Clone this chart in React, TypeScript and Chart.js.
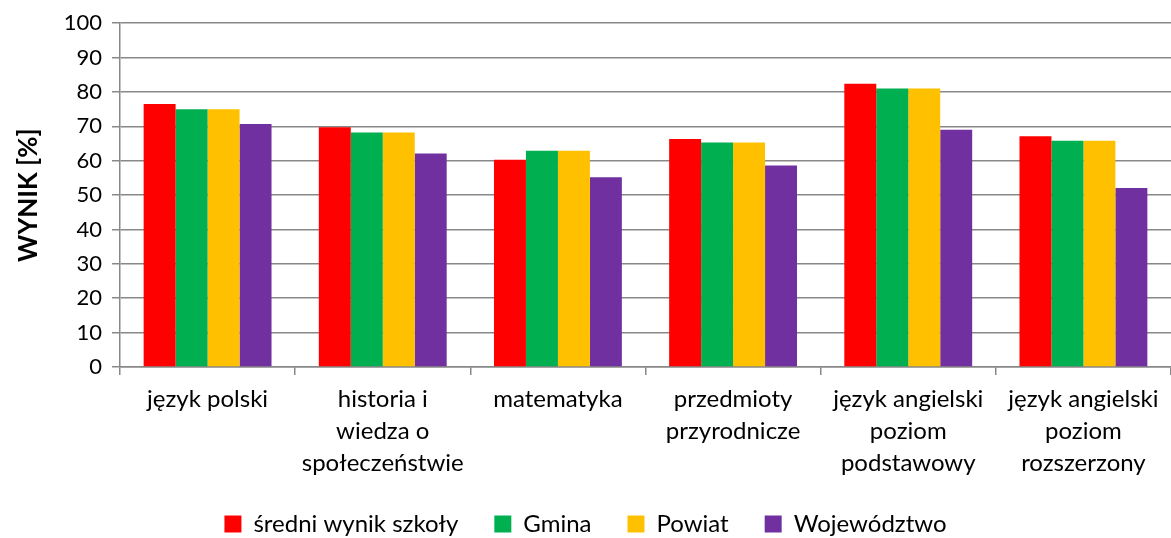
import React, { useEffect, useRef } from "react";
import { Chart, registerables } from "chart.js";

Chart.register(...registerables);

const categories: string[][] = [
  ["język polski"],
  ["historia i", "wiedza o", "społeczeństwie"],
  ["matematyka"],
  ["przedmioty", "przyrodnicze"],
  ["język angielski", "poziom", "podstawowy"],
  ["język angielski", "poziom", "rozszerzony"],
];

const seriesNames = ["średni wynik szkoły", "Gmina", "Powiat", "Województwo"];
const szkola = [76.5, 69.7, 60.3, 66.3, 82.4, 67.1];
const gmina = [75.0, 68.2, 62.9, 65.3, 81.0, 65.8];
const powiat = [75.0, 68.2, 62.9, 65.3, 81.0, 65.8];
const wojewodztwo = [70.7, 62.1, 55.2, 58.6, 69.0, 52.1];
const colors = ["#FF0000", "#00B050", "#FFC000", "#7030A0"];
const yTicks = [0, 10, 20, 30, 40, 50, 60, 70, 80, 90, 100];
const yTitle = "WYNIK [%]";

const FONT = "Lato, 'Open Sans', sans-serif";

const yTitlePlugin = {
  id: "yTitlePlugin",
  afterDraw(chart: any) {
    const { ctx, chartArea } = chart;
    ctx.save();
    ctx.translate(29, (chartArea.top + chartArea.bottom) / 2);
    ctx.rotate(-Math.PI / 2);
    ctx.font = `bold 26px ${FONT}`;
    ctx.fillStyle = "#000";
    ctx.textAlign = "center";
    ctx.textBaseline = "middle";
    ctx.fillText(yTitle, 0, 0);
    ctx.restore();
  },
};

export default function App() {
  const ref = useRef<HTMLCanvasElement | null>(null);
  useEffect(() => {
    if (!ref.current) return;
    const values = [szkola, gmina, powiat, wojewodztwo];
    const chart = new Chart(ref.current, {
      type: "bar",
      data: {
        labels: categories,
        datasets: seriesNames.map((n, i) => ({
          label: n,
          data: values[i],
          backgroundColor: colors[i],
          borderWidth: 0,
          barPercentage: 1,
          categoryPercentage: 0.73,
        })),
      },
      plugins: [yTitlePlugin],
      options: {
        animation: false,
        responsive: false,
        maintainAspectRatio: false,
        layout: { padding: { top: 12, right: 0, bottom: -8, left: 0 } },
        plugins: {
          legend: {
            position: "bottom",
            labels: {
              font: { family: FONT, size: 24 },
              color: "#000",
              boxWidth: 17,
              boxHeight: 17,
              padding: 36,
            },
          },
          tooltip: { enabled: false },
        },
        scales: {
          x: {
            afterFit: (scale: any) => {
              scale.height = 109;
            },
            grid: {
              offset: true,
              drawOnChartArea: false,
              color: "#888888",
              lineWidth: 1.5,
              tickLength: 8,
            },
            border: { color: "#888888", width: 1.5 },
            ticks: {
              font: { family: FONT, size: 24, lineHeight: 1.33 },
              color: "#000",
              maxRotation: 0,
              autoSkip: false,
              padding: 8,
            },
          },
          y: {
            min: 0,
            max: 100,
            afterFit: (scale: any) => {
              scale.width = 120;
            },
            afterBuildTicks: (scale: any) => {
              scale.ticks = yTicks.map((v) => ({ value: v }));
            },
            grid: {
              color: "#888888",
              lineWidth: 1.5,
              tickLength: 8,
            },
            border: { color: "#888888", width: 1.5 },
            ticks: {
              font: { family: FONT, size: 22 },
              color: "#000",
              padding: 10,
            },
          },
        },
      },
    });
    return () => chart.destroy();
  }, []);
  return (
    <div style={{ position: "fixed", left: 0, top: 0, width: 1171, height: 538, background: "#fff" }}>
      <canvas ref={ref} width={1171} height={538} style={{ width: 1171, height: 538 }} />
    </div>
  );
}
